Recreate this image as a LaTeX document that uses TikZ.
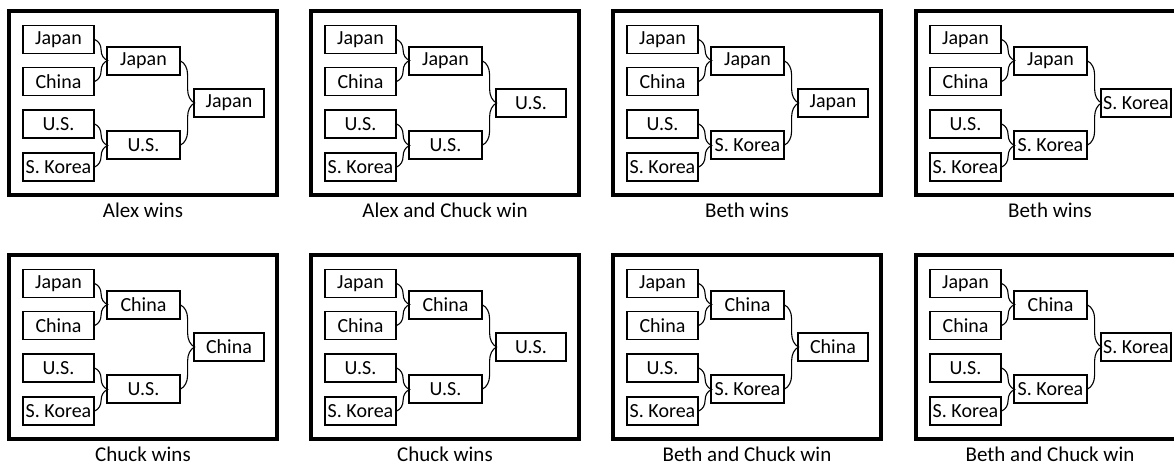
\documentclass[tikz,border=0pt]{standalone}
\usepackage{fontspec}
\setmainfont{Carlito}
\usetikzlibrary{decorations.pathreplacing}
\tikzset{
  frame/.style={draw, line width=3.5pt},
  team/.style={draw, line width=1.2pt, minimum width=71pt, minimum height=28pt, inner sep=0pt, font=\fontsize{20}{20}\selectfont},
  midteam/.style={team, minimum width=73pt},
  finteam/.style={team, minimum width=70pt},
  bracelink/.style={decorate, decoration={brace, amplitude=#1}, line width=1.1pt},
  caption/.style={font=\fontsize{21}{21}\selectfont, inner sep=0pt, anchor=base},
}
\newcommand\bracketpanel[7]{%
  \begin{scope}[shift={(#2,#3)}]
    \draw[frame] (0,0) rectangle (268,184);
    \node[team] (#1a) at (49.5,28.5) {Japan};
    \node[team] (#1b) at (49.5,70.5) {China};
    \node[team] (#1c) at (49.5,113) {U.S.};
    \node[team] (#1d) at (49.5,156) {S. Korea};
    \node[midteam] (#1m) at (134.5,50) {#4};
    \node[midteam] (#1n) at (134.5,134) {#5};
    \node[finteam] (#1f) at (220,92) {#6};
    \draw[bracelink=13pt] (#1a.east) -- (#1b.east);
    \draw[bracelink=13pt] (#1c.east) -- (#1d.east);
    \draw[bracelink=14pt] (#1m.east) -- (#1n.east);
    \node[caption] (#1cap) at (134,206.5) {#7};
  \end{scope}}
\begin{document}
\begin{tikzpicture}[x=1pt,y=-1pt]
  \useasboundingbox (0,0) rectangle (1174,465);
  \bracketpanel{pa}{9}{11}{Japan}{U.S.}{Japan}{Alex wins}
  \bracketpanel{pb}{311}{11}{Japan}{U.S.}{U.S.}{Alex and Chuck win}
  \bracketpanel{pc}{613}{11}{Japan}{S. Korea}{Japan}{Beth wins}
  \bracketpanel{pd}{916}{11}{Japan}{S. Korea}{S. Korea}{Beth wins}
  \bracketpanel{pe}{9}{255}{China}{U.S.}{China}{Chuck wins}
  \bracketpanel{pf}{311}{255}{China}{U.S.}{U.S.}{Chuck wins}
  \bracketpanel{pg}{613}{255}{China}{S. Korea}{China}{Beth and Chuck win}
  \bracketpanel{ph}{916}{255}{China}{S. Korea}{S. Korea}{Beth and Chuck win}
\end{tikzpicture}
\end{document}
